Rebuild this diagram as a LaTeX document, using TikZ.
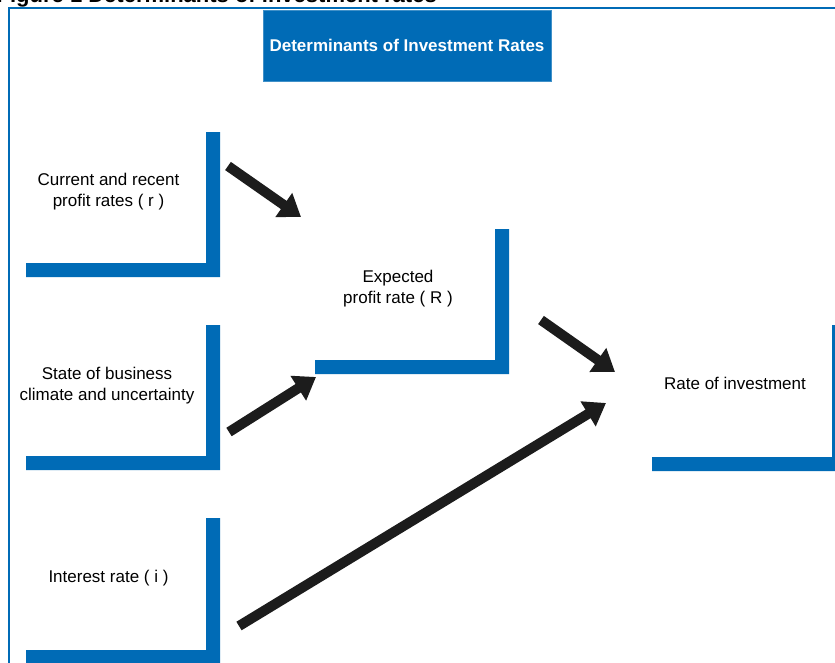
\documentclass[tikz,border=0pt]{standalone}
\usepackage{fontspec}
\setmainfont{Liberation Sans}
\usetikzlibrary{arrows.meta}
\definecolor{blu}{HTML}{006BB6}
\definecolor{arr}{HTML}{1C1C1C}
\newcommand\drawLbar[1]{%
  \fill[blu] (#1.north east) -- (#1.south east) -- (#1.south west)
    -- ([yshift=14pt]#1.south west) -- ([xshift=-14pt,yshift=14pt]#1.south east)
    -- ([xshift=-14pt]#1.north east) -- cycle;}
\tikzset{
  lbox/.style={minimum width=194pt, minimum height=145pt, inner sep=0pt, outer sep=0pt},
  lbl/.style={font=\fontsize{17}{21}\selectfont, align=center, inner sep=0pt, anchor=base, text=black},
  conn/.style={draw=arr, line width=10pt, -{Triangle[length=21pt,width=28pt]}},
}
\begin{document}
\begin{tikzpicture}[x=1pt,y=-1pt]
\useasboundingbox (0,0) rectangle (835,662);
\fill[white] (0,0) rectangle (835,662);
% cut-off figure caption
\node[font=\bfseries\fontsize{22}{26}\selectfont, anchor=base east, inner sep=0pt] (cap) at (437,2.5) {Figure 1 Determinants of investment rates};
% frame
\draw[blu, line width=1.8pt] (9,670) -- (9,7.7) -- (845,7.7);
% title
\node[fill=blu, draw=blu!75!white, line width=0.8pt, minimum width=288pt, minimum height=71pt, inner sep=0pt,
      text=white, font=\bfseries\fontsize{17}{21}\selectfont] (title) at (407,45.5) {Determinants of Investment Rates};
% L boxes
\node[lbox] (cur) at (123,204.5) {};
\node[lbox] (sta) at (123,397.5) {};
\node[lbox, minimum height=146pt] (int) at (123,591) {};
\node[lbox] (exp) at (412,301.5) {};
\node[lbox, minimum height=146pt] (inv) at (749,398) {};
\drawLbar{cur}
\drawLbar{sta}
\drawLbar{int}
\drawLbar{exp}
\drawLbar{inv}
% labels (base = baseline of last line)
\node[lbl] (curt) at (108.5,206) {Current and recent\\profit rates ( r )};
\node[lbl] (stat) at (107,400) {State of business\\climate and uncertainty};
\node[lbl] (intt) at (108.5,582) {Interest rate ( i )};
\node[lbl] (expt) at (398,303) {Expected\\profit rate ( R )};
\node[lbl] (invt) at (735,389) {Rate of investment};
% arrows
\coordinate (a1s) at (228,166);
\coordinate (a1e) at (301,217);
\coordinate (a2s) at (229,432);
\coordinate (a2e) at (316,377);
\coordinate (a3s) at (239,626);
\coordinate (a3e) at (606,403);
\coordinate (a4s) at (541,320);
\coordinate (a4e) at (615,372);
\draw[conn] (a1s) -- (a1e);
\draw[conn] (a2s) -- (a2e);
\draw[conn] (a3s) -- (a3e);
\draw[conn] (a4s) -- (a4e);
\end{tikzpicture}
\end{document}
